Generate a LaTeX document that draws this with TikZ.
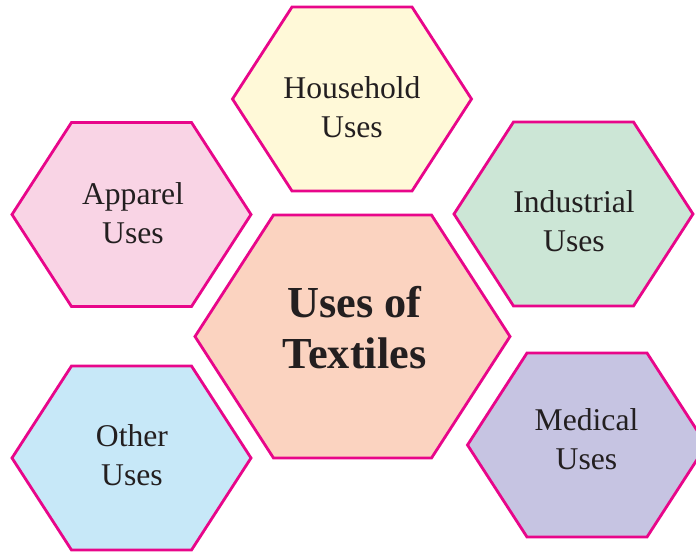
\documentclass[tikz,border=0pt]{standalone}
\usepackage{fontspec}
\setmainfont{Liberation Serif}
\usepackage{tikz}
\usetikzlibrary{calc,positioning}

\definecolor{hexline}{HTML}{E8068A}
\definecolor{inkgray}{HTML}{231F20}
\definecolor{fillhouse}{HTML}{FFF9D8}
\definecolor{fillapparel}{HTML}{F9D4E5}
\definecolor{fillindus}{HTML}{CCE6D6}
\definecolor{filltextile}{HTML}{FBD3C0}
\definecolor{fillother}{HTML}{C7E8F8}
\definecolor{fillmedical}{HTML}{C6C4E2}

\tikzset{
  hexcell/.style={draw=hexline,line width=2pt,line join=miter},
  usetext/.style={align=center,text=inkgray,font=\fontsize{22.5}{27.6}\selectfont},
  titletext/.style={align=center,text=inkgray,font=\fontsize{31.5}{36.1}\selectfont\bfseries},
}

% small hexagon round a named coordinate
\newcommand{\hexsmall}[2]{\draw[hexcell,fill=#2] (#1) ++(-119.5,0) -- ++(59.5,-92) -- ++(120,0) -- ++(59.5,92) -- ++(-59.5,92) -- ++(-120,0) -- cycle;}

\begin{document}
\begin{tikzpicture}[x=0.025cm,y=-0.025cm]
\useasboundingbox (0,0) rectangle (696,552);

\coordinate (house) at (352,99);
\coordinate (apparel) at (131.5,214.5);
\coordinate (indus) at (573.5,214);
\coordinate (textile) at (352.5,336.5);
\coordinate (other) at (131.5,458);
\coordinate (medical) at (587,445);

\hexsmall{house}{fillhouse}
\hexsmall{apparel}{fillapparel}
\hexsmall{indus}{fillindus}
\hexsmall{other}{fillother}
\hexsmall{medical}{fillmedical}
\draw[hexcell,fill=filltextile] (textile) ++(-157.5,0) -- ++(78.5,-121.5) -- ++(158,0) -- ++(78.5,121.5) -- ++(-78.5,121.5) -- ++(-158,0) -- cycle;

\node (houseT) at (352,107) [usetext] {Household\\Uses};
\node (apparelT) at (133,213) [usetext] {Apparel\\Uses};
\node (indusT) at (574,221) [usetext] {Industrial\\Uses};
\node (otherT) at (132,455.5) [usetext] {Other\\Uses};
\node (medicalT) at (586.5,439.5) [usetext] {Medical\\Uses};
\node (textileT) at (354.5,327.5) [titletext] {Uses of\\Textiles};
\end{tikzpicture}
\end{document}
